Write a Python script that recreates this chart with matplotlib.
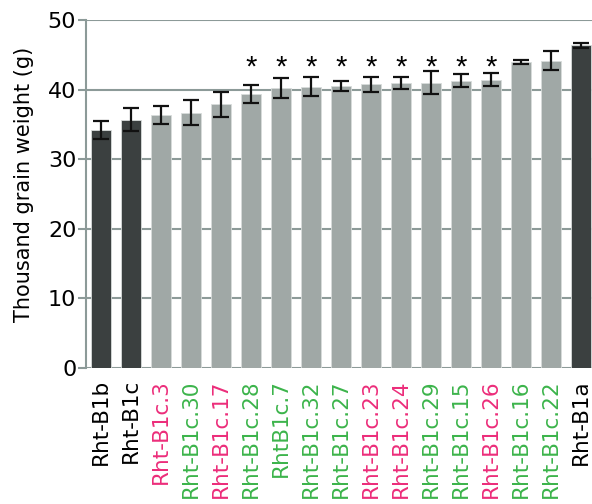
import numpy as np
import matplotlib.pyplot as plt

plt.rcParams['font.family'] = ['DejaVu Sans']

labels = ['Rht-B1b', 'Rht-B1c', 'Rht-B1c.3', 'Rht-B1c.30', 'Rht-B1c.17', 'Rht-B1c.28',
          'RhtB1c.7', 'Rht-B1c.32', 'Rht-B1c.27', 'Rht-B1c.23', 'Rht-B1c.24',
          'Rht-B1c.29', 'Rht-B1c.15', 'Rht-B1c.26', 'Rht-B1c.16', 'Rht-B1c.22', 'Rht-B1a']
means = [34.2, 35.7, 36.35, 36.7, 37.9, 39.4, 40.2, 40.4, 40.5, 40.75, 40.9,
         41.0, 41.3, 41.4, 44.0, 44.15, 46.4]
errors = [1.3, 1.6, 1.3, 1.75, 1.8, 1.3, 1.4, 1.35, 0.75, 1.05, 0.85,
          1.65, 0.95, 0.95, 0.3, 1.35, 0.35]
# label colour group: k = control, p = pink line, g = green line
groups = ['k', 'k', 'p', 'g', 'p', 'g', 'g', 'g', 'g', 'p', 'p',
          'g', 'g', 'p', 'g', 'g', 'k']
significant = [False] * 5 + [True] * 9 + [False] * 3

label_colors = {'k': 'black', 'p': '#ec2d7a', 'g': '#3cb44b'}
bar_colors = ['#3b4040' if g == 'k' else '#a0a8a6' for g in groups]
grey = '#8c9a98'

fig = plt.figure(figsize=(5.92, 5.04), dpi=100)
ax = fig.add_axes([0.1453, 0.2698, 0.8547, 0.6905])

x = np.arange(len(labels))
ax.bar(x, means, width=0.67, color=bar_colors, edgecolor='#d8dcdb',
       linewidth=0.6, zorder=2)
ax.errorbar(x, means, yerr=errors, fmt='none', ecolor='#111111',
            elinewidth=1.6, capsize=5.5, capthick=1.6, zorder=3)

# significance stars
for xi, s in zip(x, significant):
    if s:
        ax.text(xi, 42.0, '*', ha='center', va='baseline', fontsize=21,
                family='Liberation Sans', zorder=4)

ax.set_xlim(-0.5, 16.37)
ax.set_ylim(0, 50)
ax.set_yticks(range(0, 51, 10))
ax.yaxis.grid(True, color=grey, linewidth=1.5, zorder=0)
ax.set_axisbelow(True)

for side in ['top', 'right', 'bottom']:
    ax.spines[side].set_visible(False)
ax.spines['left'].set_color(grey)
ax.spines['left'].set_linewidth(1.5)

ax.tick_params(axis='y', colors=grey, labelcolor='black', length=6,
               width=1.5, labelsize=16, pad=1)
ax.tick_params(axis='x', length=0, pad=8)
ax.set_xticks(x)
ax.set_xticklabels(labels, rotation=90, fontsize=15.5)
for lbl, g in zip(ax.get_xticklabels(), groups):
    lbl.set_color(label_colors[g])

ax.set_ylabel('Thousand grain weight (g)', fontsize=15)
ax.yaxis.set_label_coords(-0.102, 0.527)

fig.savefig('out.png', dpi=100)
